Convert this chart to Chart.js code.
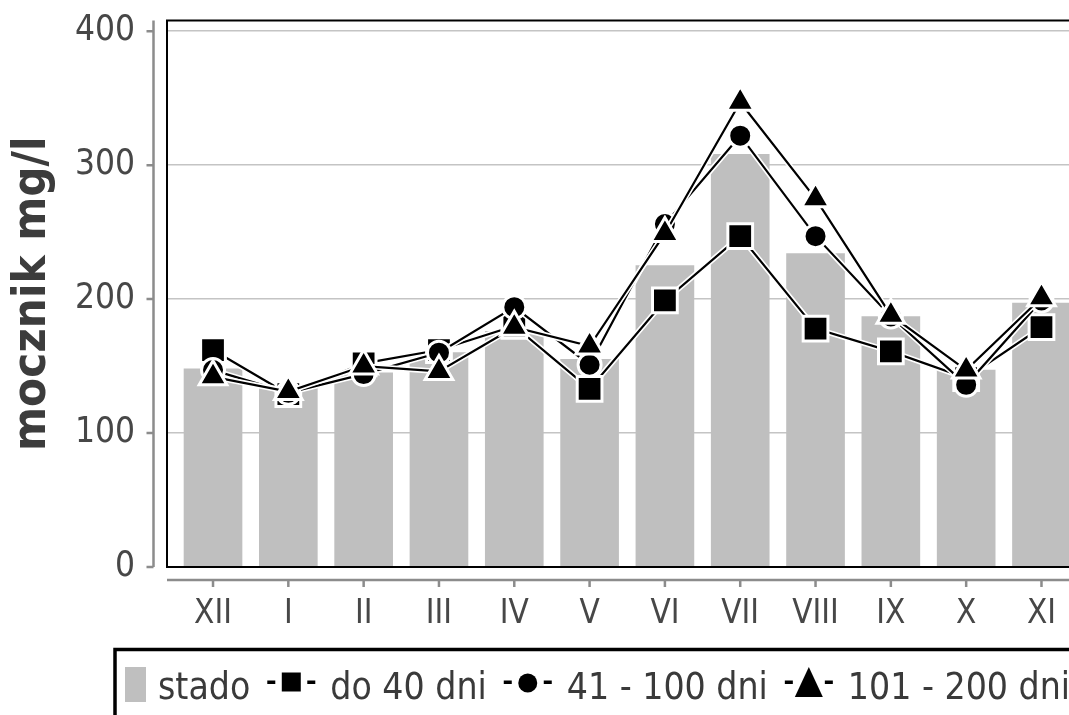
<!DOCTYPE html>
<html>
<head>
<meta charset="utf-8">
<script src="https://cdn.jsdelivr.net/npm/chart.js@4/dist/chart.umd.min.js"></script>
<style>
  html, body { margin: 0; padding: 0; background: #fff; overflow: hidden; }
  #wrap { width: 1069px; height: 715px; overflow: hidden; }
  canvas { display: block; }
</style>
</head>
<body>
<div id="wrap"><canvas id="c" width="1108" height="715"></canvas></div>
<script>
// Months of the lactation-monitoring year
const months = ['XII', 'I', 'II', 'III', 'IV', 'V', 'VI', 'VII', 'VIII', 'IX', 'X', 'XI'];
// Herd average urea (mg/l)
const herd = [148, 134, 145, 160, 176, 155, 225, 308, 234, 187, 147, 197];
// Cows by days in milk
const upTo40 = [162, 129, 152, 162, 180, 133, 199, 247, 178, 161, 141, 179];
const d41to100 = [147, 130, 144, 160, 194, 151, 256, 322, 247, 187, 136, 199];
const d101to200 = [142, 131, 150, 146, 179, 165, 249, 347, 275, 188, 147, 201];
const yTicks = [0, 100, 200, 300, 400];
const yTitle = 'mocznik mg/l';
const seriesNames = ['stado', 'do 40 dni', '41 - 100 dni', '101 - 200 dni'];

const FONT = "'DejaVu Sans Condensed', 'DejaVu Sans', sans-serif";
const BAR_GREY = '#bfbfbf';
const TEXT_GREY = '#474747';

const xy = arr => arr.map((v, i) => ({ x: i, y: v }));

function lineSet(label, values, style, radius, order) {
  return {
    type: 'line', label, data: xy(values), order,
    borderColor: '#000', borderWidth: 2.2, tension: 0,
    pointStyle: style, pointRadius: radius, pointHoverRadius: radius,
    pointBackgroundColor: '#000', pointBorderColor: '#fff', pointBorderWidth: 3
  };
}

// white casing under each connecting line
const lineCasing = {
  id: 'lineCasing',
  beforeDatasetDraw(chart, args) {
    const meta = args.meta;
    if (meta.type !== 'line') return;
    const ctx = chart.ctx;
    ctx.save();
    ctx.strokeStyle = '#fff';
    ctx.lineWidth = 5.5;
    ctx.lineJoin = 'round';
    ctx.beginPath();
    meta.data.forEach((p, i) => i ? ctx.lineTo(p.x, p.y) : ctx.moveTo(p.x, p.y));
    ctx.stroke();
    ctx.restore();
  }
};

// detached axis lines with outward ticks, plus the black plot frame
const axesAndFrame = {
  id: 'axesAndFrame',
  afterDatasetsDraw(chart) {
    const { ctx, chartArea: a, scales: { x, y } } = chart;
    ctx.save();
    ctx.strokeStyle = '#8c8c8c';
    ctx.lineWidth = 2.5;
    ctx.beginPath();
    const ax = a.left - 13.5;
    ctx.moveTo(ax, a.top); ctx.lineTo(ax, a.bottom);
    y.ticks.forEach(t => { const py = y.getPixelForValue(t.value); ctx.moveTo(ax - 7, py); ctx.lineTo(ax, py); });
    const ay = a.bottom + 13;
    ctx.moveTo(a.left, ay); ctx.lineTo(a.right, ay);
    x.ticks.forEach(t => { const px = x.getPixelForValue(t.value); ctx.moveTo(px, ay); ctx.lineTo(px, ay + 7); });
    ctx.stroke();
    ctx.strokeStyle = '#000';
    ctx.lineWidth = 2;
    ctx.strokeRect(a.left, a.top, a.right - a.left, a.bottom - a.top);
    ctx.restore();
  }
};

// boxed legend along the bottom
const boxLegend = {
  id: 'boxLegend',
  afterDraw(chart) {
    const ctx = chart.ctx;
    ctx.save();
    ctx.strokeStyle = '#000';
    ctx.lineWidth = 3.5;
    ctx.strokeRect(115, 649.5, chart.width, 120);
    ctx.font = '37px ' + FONT;
    ctx.textBaseline = 'alphabetic';
    const base = 699, cy = 682;
    let x = 125;
    chart.data.datasets.forEach(ds => {
      if (ds.type === 'bar') {
        ctx.fillStyle = BAR_GREY;
        ctx.fillRect(x, 667, 21, 35);
        x += 33;
      } else {
        x += 17;
        ctx.fillStyle = '#000';
        ctx.fillRect(x, cy - 1.5, 8, 3.5);
        ctx.fillRect(x + 40, cy - 1.5, 8, 3.5);
        const mx = x + 24;
        ctx.beginPath();
        if (ds.pointStyle === 'rect') {
          ctx.rect(mx - 9.5, cy - 9.5, 19, 19);
        } else if (ds.pointStyle === 'circle') {
          ctx.arc(mx, cy + 1, 9.5, 0, Math.PI * 2);
        } else {
          ctx.moveTo(mx, cy - 15); ctx.lineTo(mx + 14, cy + 15); ctx.lineTo(mx - 14, cy + 15); ctx.closePath();
        }
        ctx.fill();
        x += 48 + 15;
      }
      ctx.fillStyle = '#3a3a3a';
      ctx.fillText(ds.label, x, base);
      x += ctx.measureText(ds.label).width;
    });
    ctx.restore();
  }
};

const noPad = s => { s.paddingTop = 0; s.paddingBottom = 0; s.paddingLeft = 0; s.paddingRight = 0; };

new Chart(document.getElementById('c'), {
  data: {
    datasets: [
      { type: 'bar', label: seriesNames[0], data: xy(herd), order: 4,
        backgroundColor: BAR_GREY, borderWidth: 0, barThickness: 58 },
      lineSet(seriesNames[1], upTo40, 'rect', 17.5, 3),
      lineSet(seriesNames[2], d41to100, 'circle', 11.5, 2),
      lineSet(seriesNames[3], d101to200, 'triangle', 16, 1)
    ]
  },
  options: {
    responsive: false,
    animation: false,
    devicePixelRatio: 1,
    layout: { padding: { top: 16, right: 13, left: 0, bottom: 0 } },
    plugins: { legend: { display: false }, tooltip: { enabled: false } },
    scales: {
      x: {
        type: 'linear', min: -0.611, max: 11.611, offset: false,
        afterBuildTicks: s => { s.ticks = months.map((m, i) => ({ value: i })); },
        afterFit: s => { s.height = 148; noPad(s); },
        grid: { display: false, drawTicks: false, offset: false },
        border: { display: false },
        ticks: {
          callback: v => months[v], autoSkip: false, maxRotation: 0,
          padding: 28, color: TEXT_GREY, font: { family: FONT, size: 33 }
        }
      },
      y: {
        type: 'linear', min: 0, max: 408,
        afterBuildTicks: s => { s.ticks = yTicks.map(v => ({ value: v })); },
        afterFit: s => { s.width = 167; noPad(s); },
        grid: { color: '#c4c4c4', lineWidth: 1.5, drawTicks: false },
        border: { display: false },
        ticks: { padding: 32, color: TEXT_GREY, font: { family: FONT, size: 35 } },
        title: {
          display: true, text: yTitle, color: '#3c3c3c',
          font: { family: FONT, size: 47, weight: 'bold' },
          padding: { top: 5, bottom: 0 }
        }
      }
    }
  },
  plugins: [lineCasing, axesAndFrame, boxLegend]
});
</script>
</body>
</html>
